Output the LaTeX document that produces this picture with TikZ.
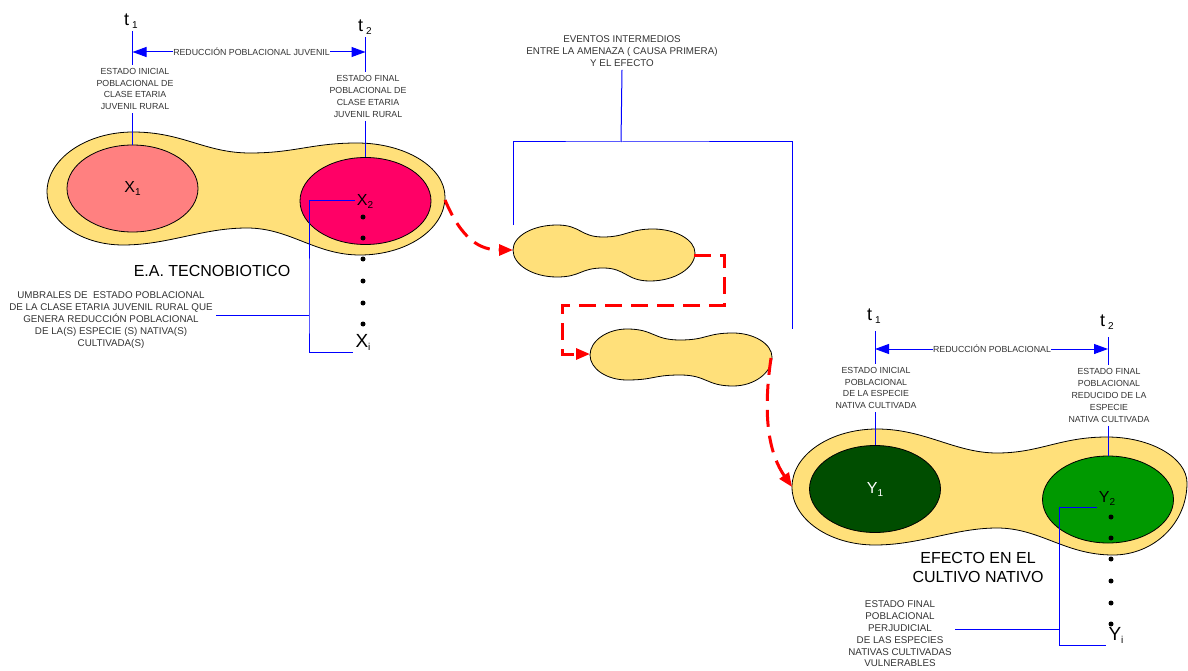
\documentclass[tikz,border=0pt]{standalone}
\usepackage{fontspec}
\setmainfont{Liberation Sans}
\usetikzlibrary{arrows.meta,shapes.geometric}

\definecolor{blobyellow}{RGB}{255,224,122}
\definecolor{pinkx}{RGB}{255,128,128}
\definecolor{magx}{RGB}{255,0,102}
\definecolor{darkgrn}{RGB}{0,77,0}
\definecolor{litgrn}{RGB}{0,153,0}
\definecolor{leadblue}{RGB}{0,0,255}

\newcommand{\lowsub}[1]{\raisebox{-3pt}{\fontsize{10}{10}\selectfont #1}}

\tikzset{
  blob/.style={draw=black, line width=0.8pt, fill=blobyellow},
  core/.style={ellipse, draw=black, line width=0.8pt, inner sep=0pt, minimum width=131pt, minimum height=87pt, font=\fontsize{16}{16}\selectfont},
  lbl/.style={font=\fontsize{16}{16}\selectfont, inner sep=2pt},
  lead/.style={draw=leadblue, line width=1pt},
  span/.style={lead, {Triangle[length=14pt,width=10pt]}-{Triangle[length=14pt,width=10pt]}},
  hop/.style={red, line width=3pt, dash pattern=on 17pt off 9pt, -{Triangle[length=14pt,width=11pt]}},
  tagtxt/.style={font=\fontsize{8.8}{11.8}\selectfont, align=center, text=black!80},
  notetxt/.style={font=\fontsize{9.8}{11.8}\selectfont, align=center, text=black!80},
  bigtxt/.style={font=\fontsize{16}{19}\selectfont, align=center},
  tlab/.style={font=\fontsize{18}{20}\selectfont, anchor=base, inner sep=2pt},
}

\begin{document}
\begin{tikzpicture}[x=1pt, y=-1pt]
  \useasboundingbox (0,0) rectangle (1188,671);

  % Blobs
  \draw[blob] (47,192) .. controls (47,159) and (86,132) .. (133,132)
    .. controls (183,132) and (205,153) .. (250,153)
    .. controls (295,153) and (312,143) .. (357,143)
    .. controls (405,143) and (445,167) .. (445,197)
    .. controls (445,229) and (407,255) .. (360,255)
    .. controls (315,255) and (290,228) .. (247,228)
    .. controls (202,228) and (168,245) .. (123,245)
    .. controls (81,245) and (47,221) .. (47,192) -- cycle;
  \draw[blob] (513,250) .. controls (513,236) and (533,225) .. (557,225)
    .. controls (581,225) and (580,237) .. (603,237)
    .. controls (626,237) and (629,229) .. (653,229)
    .. controls (676,229) and (695,240) .. (695,253)
    .. controls (695,268) and (675,281) .. (650,281)
    .. controls (626,281) and (626,268) .. (603,268)
    .. controls (580,268) and (581,277) .. (557,277)
    .. controls (533,277) and (513,265) .. (513,250) -- cycle;
  \draw[blob] (590,355) .. controls (590,341) and (607,329) .. (627,329)
    .. controls (654,329) and (653,340) .. (680,340)
    .. controls (707,340) and (706,333) .. (733,333)
    .. controls (754,333) and (772,344) .. (772,357)
    .. controls (772,373) and (754,386) .. (733,386)
    .. controls (706,386) and (707,375) .. (680,375)
    .. controls (653,375) and (654,380) .. (627,380)
    .. controls (607,380) and (590,369) .. (590,355) -- cycle;
  \draw[blob] (792,487) .. controls (792,455) and (830,429) .. (877,429)
    .. controls (925,429) and (955,453) .. (997,453)
    .. controls (1040,453) and (1060,437) .. (1107,437)
    .. controls (1151,437) and (1187,458) .. (1187,483)
    .. controls (1187,523) and (1154,555) .. (1113,555)
    .. controls (1065,555) and (1040,528) .. (997,528)
    .. controls (955,528) and (920,545) .. (875,545)
    .. controls (829,545) and (792,519) .. (792,487) -- cycle;

  % States
  \node[core, fill=pinkx] (x1) at (132.5,188.5) {X\lowsub{1}};
  \node[core, fill=magx] (x2) at (365.5,201) {};
  \node[core, fill=darkgrn, text=white] (y1) at (875,489) {Y\lowsub{1}};
  \node[core, fill=litgrn] (y2) at (1108,499.5) {};
  \node[lbl] (x2l) at (365,201) {X\lowsub{2}};
  \node[lbl] (y2l) at (1107,498) {Y\lowsub{2}};
  \node[lbl, font=\fontsize{19}{19}\selectfont] (xil) at (363,342) {X\lowsub{i}};
  \node[lbl, font=\fontsize{19}{19}\selectfont] (yil) at (1116,635) {Y\lowsub{i}};
  \foreach \y in {217,238,259,281,303,324} \fill (363,\y) circle (2.5pt);
  \foreach \y in {517,538,559,581,603,624} \fill (1111,\y) circle (2.5pt);

  % Texts
  \node[bigtxt] (tec) at (212,271) {E.A. TECNOBIOTICO};
  \node[bigtxt] (efe) at (978,567.5) {EFECTO EN EL\\CULTIVO NATIVO};
  \node[tlab] (t1) at (131,26) {t\,\lowsub{1}};
  \node[tlab] (t2) at (365,32) {t\,\lowsub{2}};
  \node[tlab] (t1r) at (874,320) {t\,\lowsub{1}};
  \node[tlab] (t2r) at (1107,326) {t\,\lowsub{2}};
  \node[tagtxt] (ini) at (135,89) {ESTADO INICIAL\\POBLACIONAL DE\\CLASE ETARIA\\JUVENIL RURAL};
  \node[tagtxt] (fin) at (368,96.5) {ESTADO FINAL\\POBLACIONAL DE\\CLASE ETARIA\\JUVENIL RURAL};
  \node[tagtxt] (inir) at (876,388) {ESTADO INICIAL\\POBLACIONAL\\DE LA ESPECIE\\NATIVA CULTIVADA};
  \node[tagtxt] (finr) at (1109,395.5) {ESTADO FINAL\\POBLACIONAL\\REDUCIDO DE LA\\ESPECIE\\NATIVA CULTIVADA};
  \node[notetxt] (ev) at (622,51) {EVENTOS INTERMEDIOS\\ENTRE LA AMENAZA ( CAUSA PRIMERA)\\Y EL EFECTO};
  \node[notetxt] (umb) at (111,320) {UMBRALES DE ~ESTADO POBLACIONAL\\DE LA CLASE ETARIA JUVENIL RURAL QUE\\GENERA REDUCCIÓN POBLACIONAL\\DE LA(S) ESPECIE (S) NATIVA(S)\\CULTIVADA(S)};
  \node[notetxt] (perj) at (900,634) {ESTADO FINAL\\POBLACIONAL\\PERJUDICIAL\\DE LAS ESPECIES\\NATIVAS CULTIVADAS\\VULNERABLES};

  % Time lines
  \draw[lead] (x1.north |- t1.south) -- (x1.north |- ini.north);
  \draw[lead] (x1.north |- ini.south) -- (x1.north);
  \draw[lead] (x2.north |- t2.south) -- (x2.north |- fin.north);
  \draw[lead] (x2.north |- fin.south) -- (x2.north);
  \draw[span] (x1.north |- 0,52) -- (x2.north |- 0,52);
  \node[tagtxt, fill=white, inner sep=0.5pt] (red) at (251.5,52) {REDUCCIÓN POBLACIONAL JUVENIL};
  \draw[lead] ([yshift=-6pt]y1.north |- t1r.south) -- (y1.north |- inir.north);
  \draw[lead] (y1.north |- inir.south) -- (y1.north);
  \draw[lead] ([yshift=-6pt]y2.north |- t2r.south) -- (y2.north |- finr.north);
  \draw[lead] (y2.north |- finr.south) -- (y2.north);
  \draw[span] (y1.north |- 0,349) -- (y2.north |- 0,349);
  \node[tagtxt, fill=white, inner sep=0.5pt] (redr) at (992,349) {REDUCCIÓN POBLACIONAL};

  % Brackets
  \coordinate (kl) at (309,315);
  \draw[lead] (x2l.west) -| (kl) |- (xil.south west);
  \draw[lead] (kl) -- (kl -| umb.east);
  \coordinate (kr) at (1059,629);
  \draw[lead] (y2l.south west) -| (kr) |- (yil.south west);
  \draw[lead] (kr) -- (kr -| perj.east);
  \coordinate (evk) at (621,142);
  \coordinate (e1) at (513,225);
  \coordinate (e2) at (792,329);
  \draw[lead] (ev.south) -- (evk);
  \draw[lead] (e1) |- (evk) -| (e2);

  % Chain of events
  \coordinate (b1e) at (445,200);
  \coordinate (s1l) at (513,250);
  \coordinate (s1e) at (694,255);
  \coordinate (s2l) at (590,354);
  \coordinate (s2e) at (771,358);
  \coordinate (b2l) at (792,487);
  \draw[hop] (b1e) .. controls (462,240) and (480,250) .. (s1l);
  \draw[hop] (s1e) -| (724,305) -| (562,354) -- (s2l);
  \draw[hop] (s2e) .. controls (762,420) and (770,455) .. (b2l);
\end{tikzpicture}
\end{document}
